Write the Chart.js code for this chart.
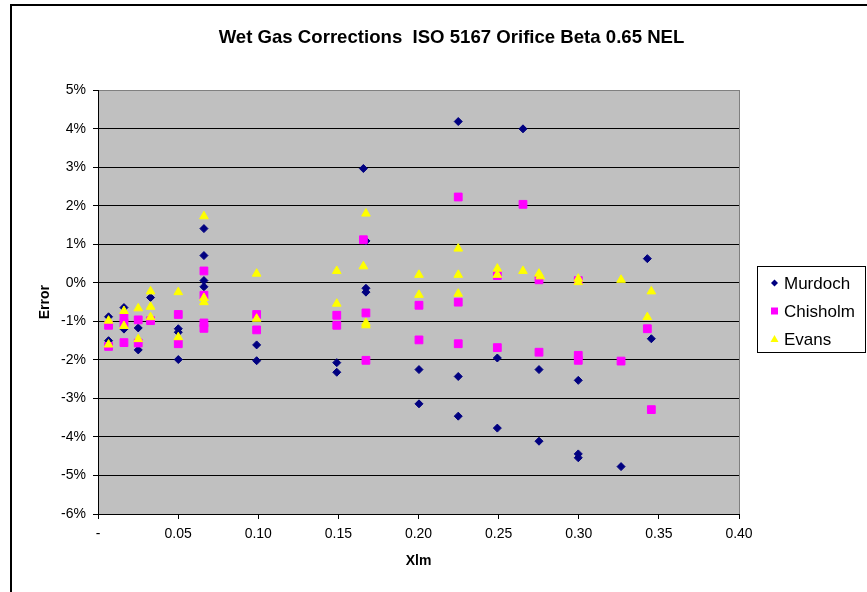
<!DOCTYPE html>
<html>
<head>
<meta charset="utf-8">
<script src="https://cdn.jsdelivr.net/npm/chart.js@4.4.0/dist/chart.umd.min.js"></script>
<style>
  html, body { margin: 0; padding: 0; background: #fff; }
  #wrap { position: relative; width: 867px; height: 592px; overflow: hidden; }
  #frame { position: absolute; left: 10px; top: 4px; width: 900px; height: 650px; border: 2px solid #000; }
  #chart { position: absolute; left: 0; top: 0; }
</style>
</head>
<body>
<div id="wrap">
  <div id="frame"></div>
  <canvas id="chart" width="867" height="592"></canvas>
</div>
<script>
// values (x = Xlm, y = error in %)
const murdochX = [0.0066, 0.0066, 0.0162, 0.0162, 0.0251, 0.0251, 0.0328, 0.0501, 0.0501, 0.0501,
  0.0661, 0.0661, 0.0661, 0.0661, 0.0990, 0.0990, 0.149, 0.149, 0.1656, 0.1672, 0.1672, 0.1672,
  0.2003, 0.2003, 0.2248, 0.2248, 0.2248, 0.2492, 0.2492, 0.2652, 0.2752, 0.2752,
  0.2997, 0.2997, 0.2997, 0.3264, 0.3428, 0.3453];
const murdochY = [-0.88, -1.50, -0.64, -1.20, -1.17, -1.74, -0.38, -1.19, -1.28, -1.99,
  1.41, 0.71, 0.06, -0.10, -1.61, -2.02, -2.07, -2.32, 2.97, 1.09, -0.14, -0.24,
  -2.25, -3.14, 4.19, -2.43, -3.46, -1.95, -3.77, 4.00, -2.25, -4.11,
  -2.53, -4.44, -4.54, -4.77, 0.63, -1.45];

const chisholmX = [0.0066, 0.0066, 0.0162, 0.0162, 0.0162, 0.0251, 0.0251, 0.0328, 0.0501, 0.0501,
  0.0661, 0.0661, 0.0661, 0.0661, 0.0990, 0.0990, 0.149, 0.149, 0.1656, 0.1672, 0.1672,
  0.2003, 0.2003, 0.2248, 0.2248, 0.2248, 0.2492, 0.2492, 0.2652, 0.2752, 0.2752,
  0.2997, 0.2997, 0.2997, 0.3264, 0.3428, 0.3453];
const chisholmY = [-1.10, -1.65, -0.90, -1.05, -1.55, -0.96, -1.56, -0.98, -0.82, -1.58,
  0.31, -0.32, -1.04, -1.18, -0.82, -1.22, -0.84, -1.10, 1.12, -0.78, -2.01,
  -0.58, -1.48, 2.23, -0.50, -1.58, 0.19, -1.68, 2.04, 0.08, -1.80,
  0.06, -1.88, -2.01, -2.03, -1.19, -3.29];

const evansX = [0.0066, 0.0066, 0.0162, 0.0162, 0.0251, 0.0251, 0.0328, 0.0328, 0.0328, 0.0501, 0.0501,
  0.0661, 0.0661, 0.0661, 0.0990, 0.0990, 0.149, 0.149, 0.1672, 0.1656, 0.1672, 0.1672,
  0.2003, 0.2003, 0.2248, 0.2248, 0.2248, 0.2492, 0.2492, 0.2652, 0.2752, 0.2760,
  0.2997, 0.2997, 0.3264, 0.3428, 0.3453];
const evansY = [-0.98, -1.60, -0.73, -1.12, -0.66, -1.46, -0.22, -0.62, -0.89, -0.24, -1.41,
  1.73, -0.39, -0.50, 0.24, -0.93, 0.31, -0.54, 1.80, 0.43, -1.04, -1.10,
  0.21, -0.31, 0.89, 0.21, -0.28, 0.37, 0.21, 0.31, 0.24, 0.17,
  0.11, 0.02, 0.08, -0.89, -0.22];

const xTicks = [0, 0.05, 0.10, 0.15, 0.20, 0.25, 0.30, 0.35, 0.40];
const yTicks = [-6, -5, -4, -3, -2, -1, 0, 1, 2, 3, 4, 5];

const seriesNames = ["Murdoch", "Chisholm", "Evans"];
const seriesColors = ["#000080", "#FF00FF", "#FFFF00"];
const seriesStyles = ["rectRot", "rect", "triangle"];

const toPoints = (xs, ys) => xs.map((x, i) => ({ x: x, y: ys[i] }));

const FONT = "Arial, 'Liberation Sans', sans-serif";

// grey plot area
const plotBackground = {
  id: "plotBackground",
  beforeDraw(chart) {
    const { ctx, chartArea: a } = chart;
    ctx.save();
    ctx.fillStyle = "#C0C0C0";
    ctx.fillRect(a.left, a.top, a.right - a.left, a.bottom - a.top);
    ctx.strokeStyle = "#808080";
    ctx.lineWidth = 1;
    ctx.strokeRect(Math.round(a.left) + 0.5, Math.round(a.top) + 0.5,
      Math.round(a.right - a.left), Math.round(a.bottom - a.top));
    ctx.restore();
  },
};

// boxed legend on the right, like the spreadsheet one
function drawMarker(ctx, style, x, y, color) {
  ctx.fillStyle = color;
  ctx.beginPath();
  if (style === "rectRot") {
    ctx.moveTo(x - 3.5, y); ctx.lineTo(x, y - 3.5); ctx.lineTo(x + 3.5, y); ctx.lineTo(x, y + 3.5);
  } else if (style === "rect") {
    ctx.rect(x - 3.5, y - 3.5, 7, 7);
  } else {
    ctx.moveTo(x, y - 4); ctx.lineTo(x + 4, y + 3); ctx.lineTo(x - 4, y + 3);
  }
  ctx.closePath();
  ctx.fill();
}

const boxedLegend = {
  id: "boxedLegend",
  afterDraw(chart) {
    const ctx = chart.ctx;
    ctx.save();
    ctx.strokeStyle = "#000";
    ctx.lineWidth = 1;
    ctx.strokeRect(757.5, 266.5, 108, 86);
    ctx.font = "17px " + FONT;
    ctx.textBaseline = "middle";
    ctx.textAlign = "left";
    seriesNames.forEach((name, i) => {
      const y = 283 + i * 28;
      drawMarker(ctx, seriesStyles[i], 774.5, y, seriesColors[i]);
      ctx.fillStyle = "#000";
      ctx.fillText(name, 784, y + 1);
    });
    ctx.restore();
  },
};

const pointSets = [toPoints(murdochX, murdochY), toPoints(chisholmX, chisholmY), toPoints(evansX, evansY)];
const radii = [4, 5.5, 5];

new Chart(document.getElementById("chart"), {
  type: "scatter",
  data: {
    datasets: seriesNames.map((name, i) => ({
      label: name,
      data: pointSets[i],
      pointStyle: seriesStyles[i],
      pointRadius: radii[i],
      pointHoverRadius: radii[i],
      backgroundColor: seriesColors[i],
      borderColor: seriesColors[i],
      borderWidth: 1,
      order: 3 - i,
    })),
  },
  options: {
    responsive: false,
    animation: false,
    devicePixelRatio: 1,
    layout: { padding: { left: 36, right: 0, top: 0, bottom: 0 } },
    plugins: {
      legend: { display: false },
      tooltip: { enabled: false },
      title: {
        display: true,
        text: "Wet Gas Corrections  ISO 5167 Orifice Beta 0.65 NEL",
        color: "#000",
        font: { family: FONT, size: 18.6, weight: "bold" },
        padding: { top: 27, bottom: 41 },
      },
    },
    scales: {
      x: {
        type: "linear",
        min: 0,
        max: 0.4,
        afterBuildTicks: (s) => { s.ticks = xTicks.map((v) => ({ value: v })); },
        afterFit: (s) => { s.height = 78; s.paddingRight = 128; },
        ticks: {
          color: "#000",
          font: { family: FONT, size: 14 },
          padding: 7,
          callback: (v) => (v === 0 ? "-" : Number(v).toFixed(2)),
        },
        grid: { drawOnChartArea: false, color: "#000", tickLength: 5 },
        border: { color: "#000" },
        title: {
          display: true,
          text: "Xlm",
          color: "#000",
          font: { family: FONT, size: 14, weight: "bold" },
          padding: { top: 0, bottom: 22 },
        },
      },
      y: {
        min: -6,
        max: 5,
        afterBuildTicks: (s) => { s.ticks = yTicks.map((v) => ({ value: v })); },
        afterFit: (s) => { s.width = 62; },
        ticks: {
          color: "#000",
          font: { family: FONT, size: 14 },
          padding: 7,
          callback: (v) => v + "%",
        },
        grid: {
          color: (c) => (c.tick && c.tick.value === 5 ? "#808080" : "#000"),
          tickColor: "#000",
          tickLength: 5,
        },
        border: { color: "#000" },
        title: {
          display: true,
          text: "Error",
          color: "#000",
          font: { family: FONT, size: 14, weight: "bold" },
          padding: { top: 1, bottom: 0 },
        },
      },
    },
  },
  plugins: [plotBackground, boxedLegend],
});
</script>
</body>
</html>
